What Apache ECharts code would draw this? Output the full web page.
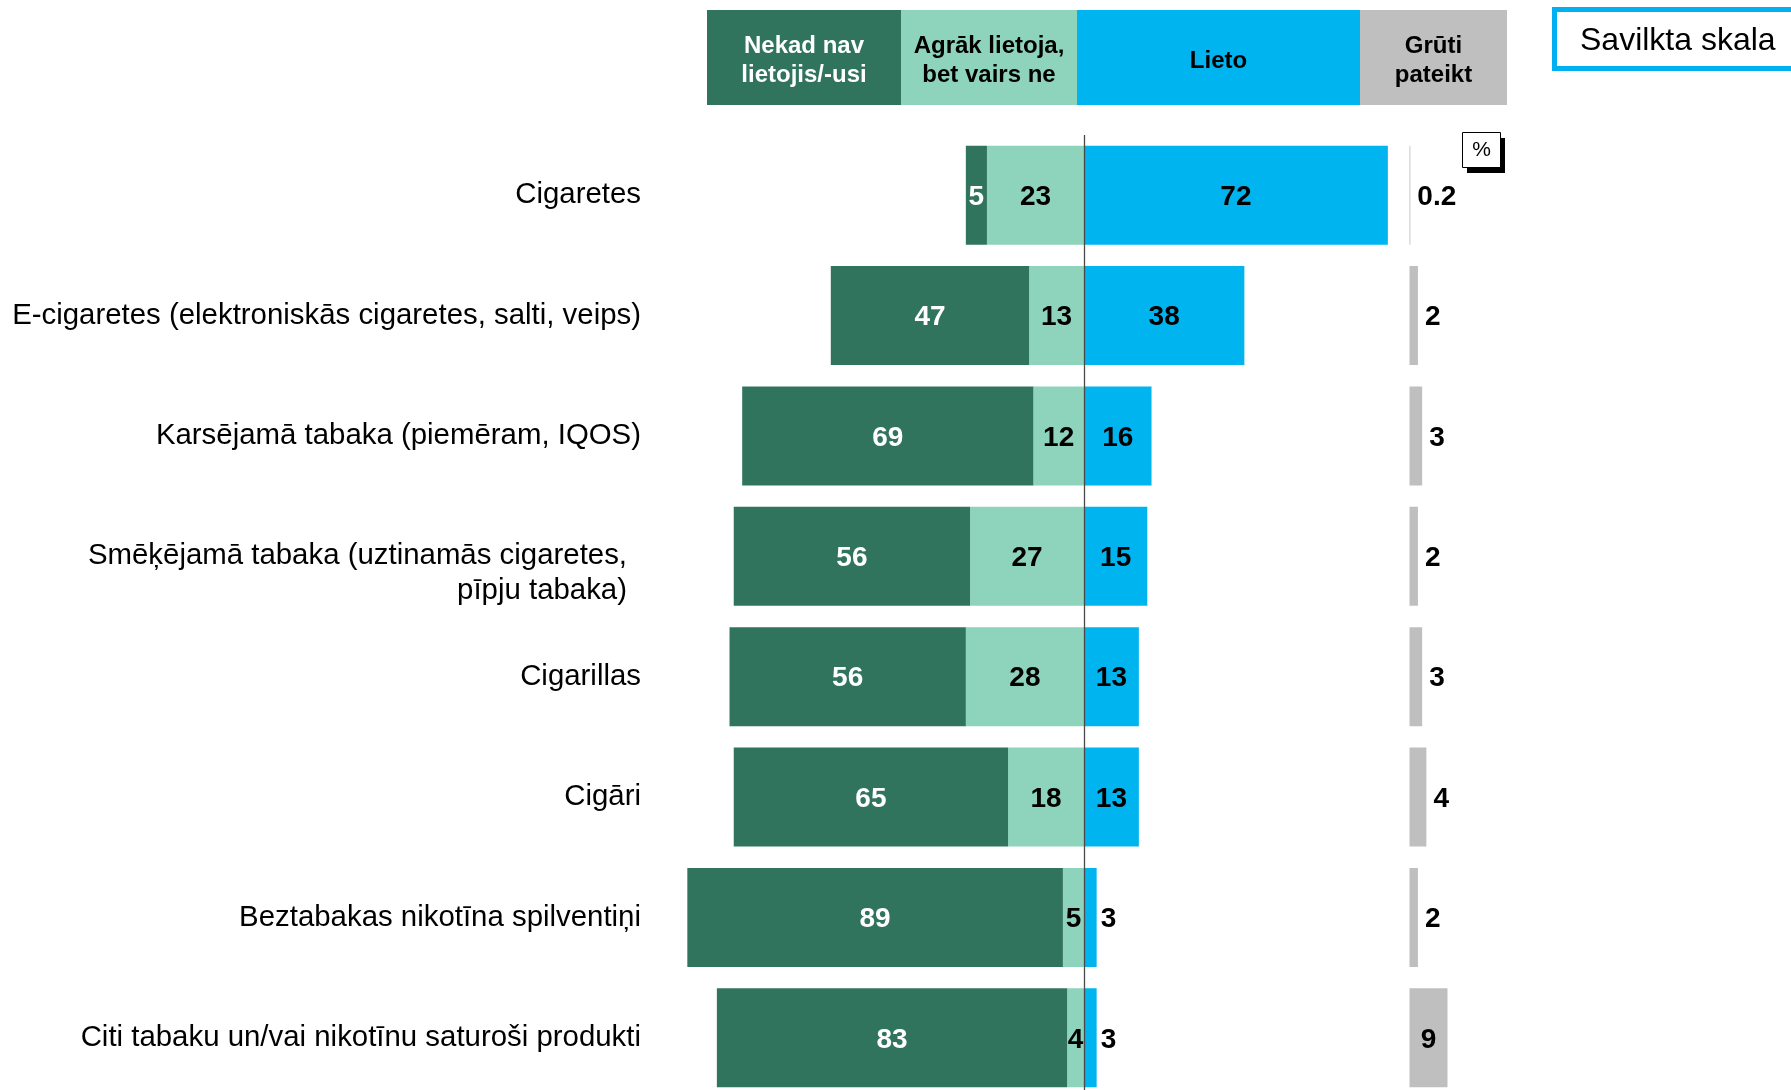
<!DOCTYPE html>
<html>
<head>
<meta charset="utf-8">
<script src="https://cdn.jsdelivr.net/npm/echarts@6/dist/echarts.min.js"></script>
<style>
  html, body { margin: 0; padding: 0; background: #ffffff; }
  #chart { width: 1791px; height: 1090px; }
</style>
</head>
<body>
<div id="chart"></div>
<script>
// Tobacco / nicotine product use, % of respondents
const categories = [
  'Cigaretes',
  'E-cigaretes (elektroniskās cigaretes, salti, veips)',
  'Karsējamā tabaka (piemēram, IQOS)',
  'Smēķējamā tabaka (uztinamās cigaretes,\npīpju tabaka)',
  'Cigarillas',
  'Cigāri',
  'Beztabakas nikotīna spilventiņi',
  'Citi tabaku un/vai nikotīnu saturoši produkti'
];
const neverUsed    = [5, 47, 69, 56, 56, 65, 89, 83];
const formerlyUsed = [23, 13, 12, 27, 28, 18, 5, 4];
const usesNow      = [72, 38, 16, 15, 13, 13, 3, 3];
const hardToSay    = [0.2, 2, 3, 2, 3, 4, 2, 9];

const headerLabels = ['Nekad nav\nlietojis/-usi', 'Agrāk lietoja,\nbet vairs ne', 'Lieto', 'Grūti\npateikt'];
const scaleNote = 'Savilkta skala';
const unitLabel = '%';

const COLORS = {
  never: '#31745E',
  former: '#8ED3BB',
  now: '#00B4EF',
  hard: '#BFBFBF',
  frame: '#00B0F0'
};
const FONT = "'Liberation Sans', Arial, Helvetica, sans-serif";

const fmt = v => String(Math.abs(v));

const valueLabel = (color, extra) => Object.assign({
  show: true,
  position: 'inside',
  color: color,
  fontFamily: FONT,
  fontWeight: 'bold',
  fontSize: 28,
  offset: [0, 2],
  formatter: p => fmt(p.value)
}, extra || {});

// category labels; the two-line one is indented a little from the right
const yCategoryData = categories.map(c => c.indexOf('\n') >= 0
  ? { value: c, textStyle: { padding: [0, 14, 0, 0], lineHeight: 35 } }
  : c);

// small "currently uses" values are labelled just outside the bar
const nowData = usesNow.map(v => v < 5
  ? { value: v, label: { position: 'right', distance: 4 } }
  : v);
// narrow "hard to say" bars carry their label to the right
const hardData = hardToSay.map(v => v < 6
  ? { value: v, label: { position: 'right', distance: 7 } }
  : v);

const BAR_W = 99;

const header = [];
const headerBoxes = [
  { x: 707, w: 194, fill: COLORS.never, text: '#ffffff' },
  { x: 901, w: 176, fill: COLORS.former, text: '#000000' },
  { x: 1077, w: 283, fill: COLORS.now, text: '#000000' },
  { x: 1360, w: 147, fill: COLORS.hard, text: '#000000' }
];
headerBoxes.forEach((b, i) => {
  header.push({
    type: 'rect', silent: true,
    shape: { x: b.x, y: 10, width: b.w, height: 95 },
    style: { fill: b.fill }
  });
  header.push({
    type: 'text', silent: true,
    x: b.x + b.w / 2, y: 61,
    style: {
      text: headerLabels[i], fill: b.text, font: 'bold 24px ' + FONT,
      align: 'center', verticalAlign: 'middle', lineHeight: 29
    }
  });
});

const chart = echarts.init(document.getElementById('chart'), null, { renderer: 'canvas' });

chart.setOption({
  backgroundColor: '#ffffff',
  animation: false,
  textStyle: { fontFamily: FONT },
  grid: [
    { left: 662, top: 135, width: 738.5, height: 963, containLabel: false, outerBoundsMode: 'none' },
    { left: 1409.5, top: 135, width: 84.4, height: 963, containLabel: false, outerBoundsMode: 'none' }
  ],
  xAxis: [
    { type: 'value', gridIndex: 0, min: -100, max: 75, show: false },
    { type: 'value', gridIndex: 1, min: 0, max: 20, show: false }
  ],
  yAxis: [
    {
      type: 'category', gridIndex: 0, inverse: true, data: yCategoryData,
      axisLine: { show: false }, axisTick: { show: false }, splitLine: { show: false },
      axisLabel: {
        interval: 0, margin: 21, color: '#000000',
        fontFamily: FONT, fontSize: 29.4, align: 'right', lineHeight: 35,
        padding: [4, 0, 0, 0],
        // a wrapped name keeps its first line level with the bar centre
        formatter: v => (v.indexOf('\n') >= 0 ? '\n' + v : v)
      }
    },
    {
      type: 'category', gridIndex: 1, inverse: true, data: categories, show: false
    }
  ],
  series: [
    {
      name: 'Agrāk lietoja, bet vairs ne', type: 'bar', stack: 'use',
      xAxisIndex: 0, yAxisIndex: 0, barWidth: BAR_W,
      itemStyle: { color: COLORS.former },
      label: valueLabel('#000000'),
      data: formerlyUsed.map(v => -v),
      markLine: {
        silent: true, symbol: ['none', 'none'], z: 10,
        label: { show: false },
        lineStyle: { color: '#4a4a4a', width: 1.3, type: 'solid' },
        data: [{ xAxis: 0 }]
      }
    },
    {
      name: 'Nekad nav lietojis/-usi', type: 'bar', stack: 'use',
      xAxisIndex: 0, yAxisIndex: 0, barWidth: BAR_W,
      itemStyle: { color: COLORS.never },
      label: valueLabel('#ffffff'),
      data: neverUsed.map(v => -v)
    },
    {
      name: 'Lieto', type: 'bar', stack: 'use',
      xAxisIndex: 0, yAxisIndex: 0, barWidth: BAR_W,
      itemStyle: { color: COLORS.now },
      label: valueLabel('#000000'),
      data: nowData
    },
    {
      name: 'Grūti pateikt', type: 'bar',
      xAxisIndex: 1, yAxisIndex: 1, barWidth: BAR_W,
      itemStyle: { color: COLORS.hard },
      label: valueLabel('#000000'),
      data: hardData
    }
  ],
  graphic: header.concat([
    // scale note frame
    {
      type: 'rect', silent: true,
      shape: { x: 1554.5, y: 9.5, width: 260, height: 59 },
      style: { fill: '#ffffff', stroke: COLORS.frame, lineWidth: 5 }
    },
    {
      type: 'text', silent: true, x: 1580, y: 41,
      style: { text: scaleNote, fill: '#000000', font: '32px ' + FONT, verticalAlign: 'middle' }
    },
    // unit badge with drop shadow
    {
      type: 'rect', silent: true,
      shape: { x: 1467, y: 138, width: 38, height: 35 },
      style: { fill: '#000000' }
    },
    {
      type: 'rect', silent: true,
      shape: { x: 1462.5, y: 132.5, width: 38, height: 35 },
      style: { fill: '#ffffff', stroke: '#000000', lineWidth: 1 }
    },
    {
      type: 'text', silent: true, x: 1481.5, y: 150.5,
      style: { text: unitLabel, fill: '#000000', font: '21px ' + FONT, align: 'center', verticalAlign: 'middle' }
    }
  ])
});
</script>
</body>
</html>
